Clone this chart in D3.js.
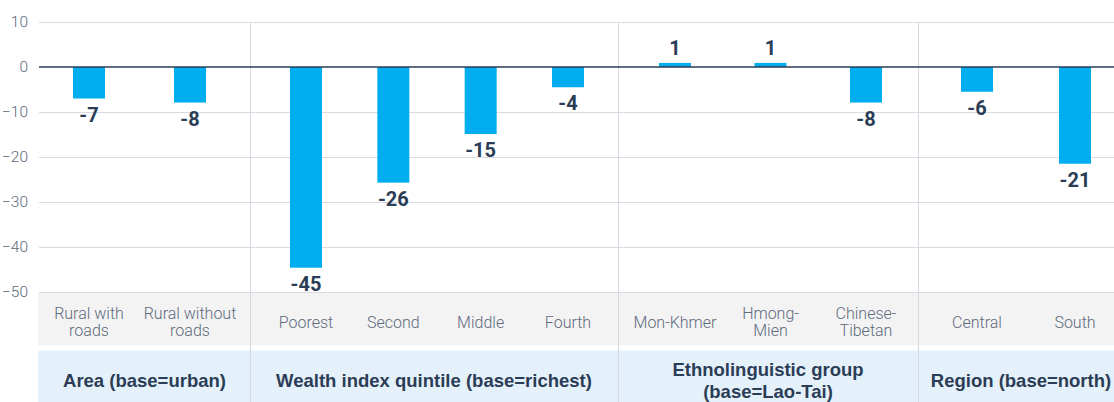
<!DOCTYPE html>
<html><head><meta charset="utf-8">
<script src="https://cdn.jsdelivr.net/npm/d3@7"></script>
<style>body{margin:0;background:#fff}svg{display:block}</style>
</head><body><svg id="c" width="1114" height="402"></svg>
<script>
const groups = ["Area (base=urban)", "Wealth index quintile (base=richest)", "Ethnolinguistic group\n(base=Lao-Tai)", "Region (base=north)"];
const categories = ["Rural with\nroads","Rural without\nroads","Poorest","Second","Middle","Fourth","Mon-Khmer","Hmong-\nMien","Chinese-\nTibetan","Central","South"];
const categoryGroup = [0,0,1,1,1,1,2,2,2,3,3];
const values = [-7.0,-7.9,-44.6,-25.7,-14.9,-4.5,0.9,0.9,-7.9,-5.5,-21.5];
const valueLabels = ["-7","-8","-45","-26","-15","-4","1","1","-8","-6","-21"];
const yTicks = [10,0,-10,-20,-30,-40,-50];

const svg = d3.select("#c");
const L = 39, R = 1114, T = 22, B = 292;
const y = d3.scaleLinear().domain([-50,10]).range([B,T]);
const bounds = [39,250,618,918,1114];
const inset = [[50,60],[56,50],[57,52],[59,39]];
const inner = groups.map((g,gi)=>{
  const cats = categories.filter((c,i)=>categoryGroup[i]===gi);
  return d3.scalePoint().domain(cats).range([bounds[gi]+inset[gi][0], bounds[gi+1]-inset[gi][1]]);
});
const xc = i => inner[categoryGroup[i]](categories[i]);
const bw = 32;
const navy = "#2b3d56", gray = "#5d6a7c";

// bands
svg.append("rect").attr("x",38).attr("y",292.5).attr("width",R-38).attr("height",53).attr("fill","#f3f3f3");
svg.append("rect").attr("x",38).attr("y",350.5).attr("width",R-38).attr("height",52).attr("fill","#e5f1fa");

// gridlines
svg.append("g").selectAll("line").data(yTicks.filter(d=>d!==0)).join("line")
  .attr("x1",L).attr("x2",R).attr("y1",d=>Math.round(y(d))+0.5).attr("y2",d=>Math.round(y(d))+0.5)
  .attr("stroke","#d9dbe2").attr("stroke-width",1);
// separators
svg.append("g").selectAll("line").data(bounds.slice(1,4)).join("line")
  .attr("x1",d=>d+0.5).attr("x2",d=>d+0.5).attr("y1",T).attr("y2",402)
  .attr("stroke","#d6d9e0").attr("stroke-width",1);

// y axis labels
const ya = svg.append("g").attr("transform",`translate(${L},0)`)
  .call(d3.axisLeft(y).tickValues(yTicks).tickSize(0).tickPadding(11).tickFormat(d3.format("d")));
ya.select(".domain").remove();
ya.selectAll("text").attr("fill",gray).attr("font-family","Roboto, sans-serif").attr("font-size",15.5).attr("font-weight",300);

// bars
svg.append("g").selectAll("rect").data(values).join("rect")
  .attr("x",(d,i)=>xc(i)-bw/2).attr("width",bw)
  .attr("y",d=>y(Math.max(0,d))).attr("height",d=>Math.abs(y(d)-y(0)))
  .attr("fill","#00adef");

// zero line
svg.append("line").attr("x1",L).attr("x2",R).attr("y1",y(0)).attr("y2",y(0))
  .attr("stroke",navy).attr("stroke-width",1.5);

// value labels
svg.append("g").selectAll("text").data(values).join("text")
  .attr("x",(d,i)=>xc(i)).attr("y",d=>d<0? y(d)+23 : y(d)-8)
  .attr("text-anchor","middle").attr("fill",navy)
  .attr("font-family","Roboto, sans-serif").attr("font-weight",700).attr("font-size",20)
  .text((d,i)=>valueLabels[i]);

// category labels
const cl = svg.append("g").selectAll("text").data(categories).join("text")
  .attr("text-anchor","middle").attr("fill",gray)
  .attr("font-family","Roboto, sans-serif").attr("font-size",16).attr("font-weight",300);
cl.each(function(d,i){
  const lines = d.split("\n");
  const t = d3.select(this);
  const y0 = lines.length===1 ? 327.5 : 318.5;
  lines.forEach((ln,k)=>t.append("tspan").attr("x",xc(i)).attr("y",y0+k*17).text(ln));
});

// group labels
const gl = svg.append("g").selectAll("text").data(groups).join("text")
  .attr("text-anchor","middle").attr("fill",navy)
  .attr("font-family","'Liberation Sans', Arial, sans-serif").attr("font-size",18.5).attr("font-weight",700);
gl.each(function(d,gi){
  const lines = d.split("\n");
  const t = d3.select(this);
  const cx = gi===3 ? (bounds[gi]+bounds[gi+1])/2+5 : (bounds[gi]+bounds[gi+1])/2;
  const y0 = lines.length===1 ? 386.5 : 376;
  lines.forEach((ln,k)=>t.append("tspan").attr("x",cx).attr("y",y0+k*22).text(ln));
});
</script></body></html>
